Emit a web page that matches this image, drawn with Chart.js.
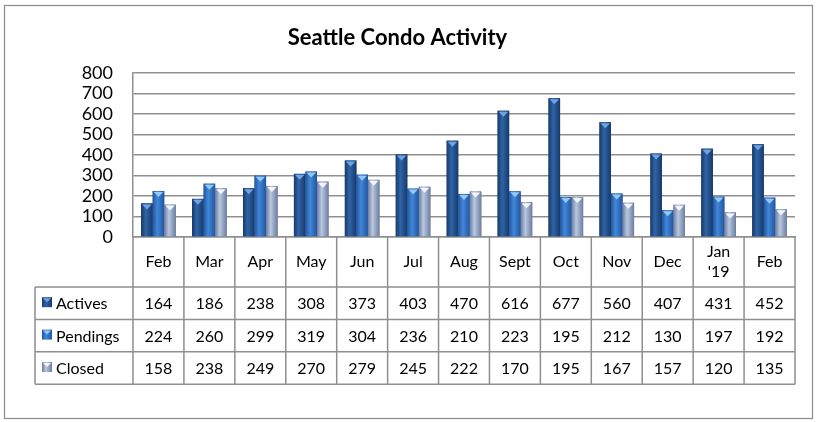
<!DOCTYPE html>
<html>
<head>
<meta charset="utf-8">
<script src="https://cdn.jsdelivr.net/npm/chart.js@4"></script>
<style>
  html, body { margin: 0; padding: 0; background: #fff; }
  #wrap { width: 818px; height: 422px; }
</style>
</head>
<body>
<div id="wrap"><canvas id="myChart" width="818" height="422"></canvas></div>
<script>
const months = ['Feb', 'Mar', 'Apr', 'May', 'Jun', 'Jul', 'Aug', 'Sept', 'Oct', 'Nov', 'Dec', ['Jan', "'19"], 'Feb'];
const actives = [164, 186, 238, 308, 373, 403, 470, 616, 677, 560, 407, 431, 452];
const pendings = [224, 260, 299, 319, 304, 236, 210, 223, 195, 212, 130, 197, 192];
const closed = [158, 238, 249, 270, 279, 245, 222, 170, 195, 167, 157, 120, 135];
const seriesNames = ['Actives', 'Pendings', 'Closed'];

// shading for each series: edge, highlight, top bevel
const shades = [
    { edge: '#173a6b', mid: '#2f64a6', top: '#6fa4e4' },
    { edge: '#2256a0', mid: '#4287d8', top: '#93c8f7' },
    { edge: '#6c7d9f', mid: '#b9c7e0', top: '#f2f6fc' }
];

const font = 'Lato, "Open Sans", sans-serif';
const lineCol = '#8f8f8f';

function shadeFill(ctx, left, w, s) {
    const g = ctx.createLinearGradient(left, 0, left + w, 0);
    g.addColorStop(0, s.edge);
    g.addColorStop(0.4, s.mid);
    g.addColorStop(1, s.edge);
    return g;
}

const barShading = {
    id: 'barShading',
    afterDatasetsDraw(chart) {
        const ctx = chart.ctx;
        ctx.save();
        chart.data.datasets.forEach((ds, i) => {
            const s = shades[i];
            chart.getDatasetMeta(i).data.forEach(bar => {
                const p = bar.getProps(['x', 'y', 'base', 'width'], true);
                const left = p.x - p.width / 2;
                ctx.fillStyle = shadeFill(ctx, left, p.width, s);
                ctx.fillRect(left, p.y, p.width, p.base - p.y);
                ctx.fillStyle = s.top;
                ctx.beginPath();
                ctx.moveTo(left + 1, p.y + 1);
                ctx.lineTo(left + p.width - 1, p.y + 1);
                ctx.lineTo(p.x, p.y + 6);
                ctx.closePath();
                ctx.fill();
            });
        });
        ctx.restore();
    }
};

const dataTable = {
    id: 'dataTable',
    afterDraw(chart) {
        const ctx = chart.ctx;
        const area = chart.chartArea;
        const xs = chart.scales.x;
        const step = xs.getPixelForValue(1) - xs.getPixelForValue(0);
        const headBottom = area.bottom + 50;
        const rowH = 32.4;
        const tableBottom = headBottom + rowH * 3;
        const legendLeft = 35;
        ctx.save();
        ctx.strokeStyle = lineCol;
        ctx.lineWidth = 1.5;
        ctx.beginPath();
        // column separators
        for (let i = 0; i <= months.length; i++) {
            const x = xs.getPixelForValue(0) - step / 2 + i * step;
            ctx.moveTo(x, area.bottom);
            ctx.lineTo(x, tableBottom);
        }
        for (let r = 0; r <= 3; r++) {
            const y = headBottom + r * rowH;
            ctx.moveTo(legendLeft, y);
            ctx.lineTo(area.right, y);
        }
        ctx.moveTo(legendLeft, headBottom);
        ctx.lineTo(legendLeft, tableBottom);
        ctx.stroke();

        const rows = [actives, pendings, closed];
        ctx.fillStyle = '#000';
        ctx.font = '16px ' + font;
        ctx.textBaseline = 'middle';
        rows.forEach((vals, r) => {
            const cy = headBottom + r * rowH + rowH / 2;
            ctx.textAlign = 'center';
            vals.forEach((v, i) => {
                ctx.fillText(String(v), xs.getPixelForValue(i), cy + 1);
            });
            const s = shades[r];
            ctx.fillStyle = shadeFill(ctx, 42, 10, s);
            ctx.fillRect(42, cy - 6, 10, 10);
            ctx.fillStyle = s.top;
            ctx.beginPath();
            ctx.moveTo(43, cy - 5);
            ctx.lineTo(51, cy - 5);
            ctx.lineTo(47, cy - 1);
            ctx.closePath();
            ctx.fill();
            ctx.fillStyle = '#000';
            ctx.textAlign = 'left';
            ctx.fillText(seriesNames[r], 56, cy + 1);
        });

        // outer frame
        ctx.strokeStyle = '#8a8a8a';
        ctx.lineWidth = 1.2;
        ctx.strokeRect(4.5, 5.5, 808, 413);
        ctx.restore();
    }
};

const ctx = document.getElementById('myChart');
const myChart = new Chart(ctx, {
    type: 'bar',
    data: {
        labels: months,
        datasets: [
            { label: 'Actives', data: actives, backgroundColor: shades[0].edge },
            { label: 'Pendings', data: pendings, backgroundColor: shades[1].edge },
            { label: 'Closed', data: closed, backgroundColor: shades[2].edge }
        ]
    },
    options: {
        responsive: false,
        animation: false,
        layout: { padding: { left: 0, right: 23, top: 0, bottom: 135 } },
        datasets: { bar: { barPercentage: 1, categoryPercentage: 0.68 } },
        plugins: {
            legend: { display: false },
            tooltip: { enabled: false },
            title: {
                display: true,
                text: 'Seattle Condo Activity',
                color: '#000',
                font: { family: font, size: 22, weight: 'bold' },
                padding: { top: 25, bottom: 21.6 }
            }
        },
        scales: {
            x: {
                grid: { display: false, drawTicks: false },
                border: { display: true, color: lineCol, width: 1.5 },
                ticks: {
                    color: '#000',
                    font: { family: font, size: 16, lineHeight: 1.25 },
                    autoSkip: false,
                    maxRotation: 0,
                    crossAlign: 'center',
                    padding: 15
                },
                afterFit(scale) { scale.height = 50; }
            },
            y: {
                min: 0,
                max: 800,
                grid: { color: lineCol, lineWidth: 1.5, drawTicks: false },
                border: { display: true, color: lineCol, width: 1.5 },
                ticks: {
                    stepSize: 100,
                    autoSkip: false,
                    color: '#000',
                    font: { family: font, size: 18 },
                    padding: 20
                },
                afterFit(scale) { scale.width = 133; }
            }
        }
    },
    plugins: [barShading, dataTable]
});
</script>
</body>
</html>
